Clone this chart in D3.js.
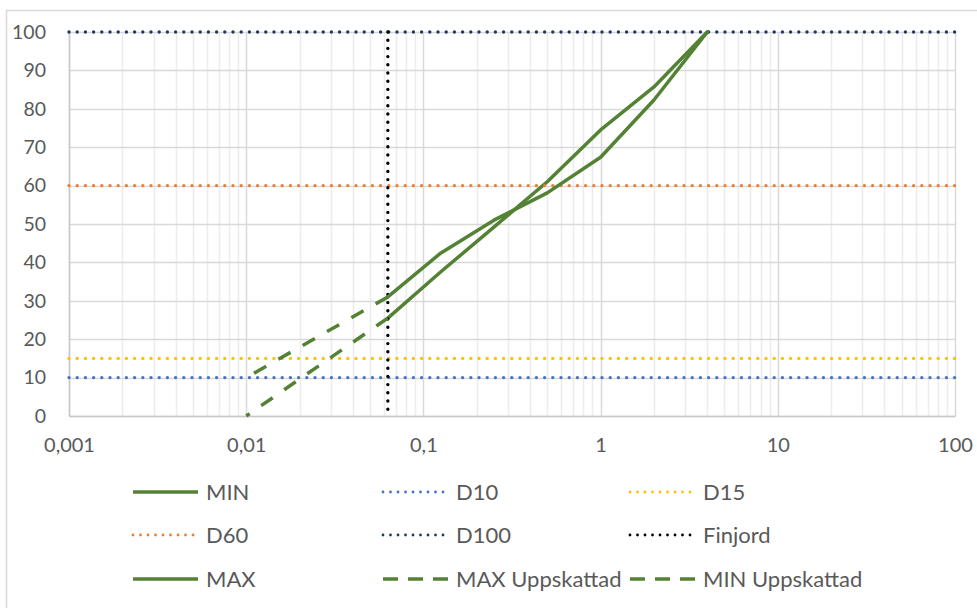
<!DOCTYPE html>
<html>
<head>
<meta charset="utf-8">
<script src="https://cdn.jsdelivr.net/npm/d3@7"></script>
<style>
  html, body { margin: 0; padding: 0; background: #ffffff; }
  svg { display: block; }
  text { font-family: Lato, "Open Sans", sans-serif; fill: #595959; }
</style>
</head>
<body>
<svg id="chart" width="977" height="608"></svg>
<script>
// ---- data ----
const sieveSizes = [0.063, 0.125, 0.25, 0.5, 1, 2, 4];
const maxValues = [31, 42.4, 51, 58.1, 67.4, 82.3, 100];
const minValues = [25.5, 37.5, 49.2, 61, 74.5, 85.7, 100];
const maxEstSizes = [0.063, 0.01];
const maxEstValues = [31, 10];
const minEstSizes = [0.063, 0.01];
const minEstValues = [25.5, 0];
const refLevels = { D10: 10, D15: 15, D60: 60, D100: 100 };
const finjordSize = 0.063;
const xTicks = [0.001, 0.01, 0.1, 1, 10, 100];
const xTickLabels = ["0,001", "0,01", "0,1", "1", "10", "100"];
const yTicks = [0, 10, 20, 30, 40, 50, 60, 70, 80, 90, 100];
const legendNames = ["MIN", "D10", "D15", "D60", "D100", "Finjord", "MAX", "MAX Uppskattad", "MIN Uppskattad"];

// ---- styles ----
const green = "#548235";
const colors = { D10: "#4472C4", D15: "#FFC000", D60: "#ED7D31", D100: "#203864", Finjord: "#000000" };

const svg = d3.select("#chart");
const x = d3.scaleLog().domain([0.001, 100]).range([69, 955]);
const y = d3.scaleLinear().domain([0, 100]).range([416, 32]);

// chart border
svg.append("rect").attr("x", 6.5).attr("y", 10.5).attr("width", 985).attr("height", 620)
  .attr("fill", "none").attr("stroke", "#d9d9d9").attr("stroke-width", 1.5);

// minor vertical gridlines
const minor = [];
for (let e = -3; e < 2; e++) for (let k = 2; k <= 9; k++) minor.push(k * Math.pow(10, e));
svg.append("g").selectAll("line").data(minor).join("line")
  .attr("x1", d => Math.round(x(d)) + 0.5).attr("x2", d => Math.round(x(d)) + 0.5)
  .attr("y1", y(100)).attr("y2", y(0))
  .attr("stroke", "#ececec").attr("stroke-width", 1.5);

// major gridlines
svg.append("g").selectAll("line").data(xTicks).join("line")
  .attr("x1", d => Math.round(x(d)) + 0.5).attr("x2", d => Math.round(x(d)) + 0.5)
  .attr("y1", y(100)).attr("y2", y(0))
  .attr("stroke", "#d9d9d9").attr("stroke-width", 1.5);
svg.append("g").selectAll("line").data(yTicks).join("line")
  .attr("x1", x(0.001)).attr("x2", x(100))
  .attr("y1", d => Math.round(y(d)) + 0.5).attr("y2", d => Math.round(y(d)) + 0.5)
  .attr("stroke", "#d9d9d9").attr("stroke-width", 1.5);

// axes via d3
const yAxis = d3.axisLeft(y).tickValues(yTicks).tickSize(0).tickPadding(23).tickFormat(d3.format("d"));
const gy = svg.append("g").attr("transform", `translate(${x(0.001)},0)`).call(yAxis);
gy.select(".domain").attr("stroke", "#c8c8c8").attr("stroke-width", 1.5);
gy.selectAll("text").attr("font-size", 19.5).style("fill", "#595959").attr("font-family", "Lato");

const xAxis = d3.axisBottom(x).tickValues(xTicks).tickSize(0).tickPadding(22)
  .tickFormat((d, i) => xTickLabels[i]);
const gx = svg.append("g").attr("transform", `translate(0,${y(0)})`).call(xAxis);
gx.select(".domain").attr("stroke", "#c8c8c8").attr("stroke-width", 1.5);
gx.selectAll("text").attr("font-size", 20).style("fill", "#595959").attr("font-family", "Lato");

const line = d3.line().x(d => x(d[0])).y(d => y(d[1]));
const zip = (a, b) => a.map((v, i) => [v, b[i]]);

// MIN (drawn first)
svg.append("path").datum(zip(sieveSizes, minValues)).attr("d", line)
  .attr("fill", "none").attr("stroke", green).attr("stroke-width", 3.5)
  .attr("stroke-linejoin", "round").attr("stroke-linecap", "round");

// reference horizontal dotted lines
const dotStyle = sel => sel.attr("stroke-width", 3.4).attr("stroke-linecap", "round").attr("stroke-dasharray", "0,8.2");
["D10", "D15", "D60", "D100"].forEach(k => {
  svg.append("path").datum([[0.001, refLevels[k]], [100, refLevels[k]]]).attr("d", line)
    .attr("fill", "none").attr("stroke", colors[k]).call(dotStyle);
});
// Finjord vertical
svg.append("path").datum([[finjordSize, 100], [finjordSize, 0]]).attr("d", line)
  .attr("fill", "none").attr("stroke", colors.Finjord).call(dotStyle);

// MAX
svg.append("path").datum(zip(sieveSizes, maxValues)).attr("d", line)
  .attr("fill", "none").attr("stroke", green).attr("stroke-width", 3.5)
  .attr("stroke-linejoin", "round").attr("stroke-linecap", "round");

// estimated dashed
[[maxEstSizes, maxEstValues], [minEstSizes, minEstValues]].forEach(([s, v]) => {
  svg.append("path").datum(zip(s, v)).attr("d", line)
    .attr("fill", "none").attr("stroke", green).attr("stroke-width", 3.5)
    .attr("stroke-dasharray", "14,14");
});

// legend
const colX = [133, 383, 630];
const rowY = [492, 535, 579];
const legendStyles = {
  "MIN": { stroke: green, type: "solid" },
  "D10": { stroke: colors.D10, type: "dot" },
  "D15": { stroke: colors.D15, type: "dot" },
  "D60": { stroke: colors.D60, type: "dot" },
  "D100": { stroke: colors.D100, type: "dot" },
  "Finjord": { stroke: colors.Finjord, type: "dot" },
  "MAX": { stroke: green, type: "solid" },
  "MAX Uppskattad": { stroke: green, type: "dash" },
  "MIN Uppskattad": { stroke: green, type: "dash" }
};
const lg = svg.append("g").selectAll("g").data(legendNames).join("g")
  .attr("transform", (d, i) => `translate(${colX[i % 3]},${rowY[Math.floor(i / 3)]})`);
lg.append("line").attr("x1", 0).attr("x2", 65).attr("y1", 0).attr("y2", 0)
  .attr("stroke", d => legendStyles[d].stroke)
  .attr("stroke-width", d => legendStyles[d].type === "dot" ? 2.8 : 3.5)
  .attr("stroke-linecap", d => legendStyles[d].type === "dot" ? "round" : "butt")
  .attr("stroke-dasharray", d => legendStyles[d].type === "dot" ? "0,7.5" : (legendStyles[d].type === "dash" ? "15,10" : null));
lg.append("text").attr("x", 73).attr("y", 0).attr("dy", "0.36em")
  .attr("font-size", 22).text(d => d);
</script>
</body>
</html>
